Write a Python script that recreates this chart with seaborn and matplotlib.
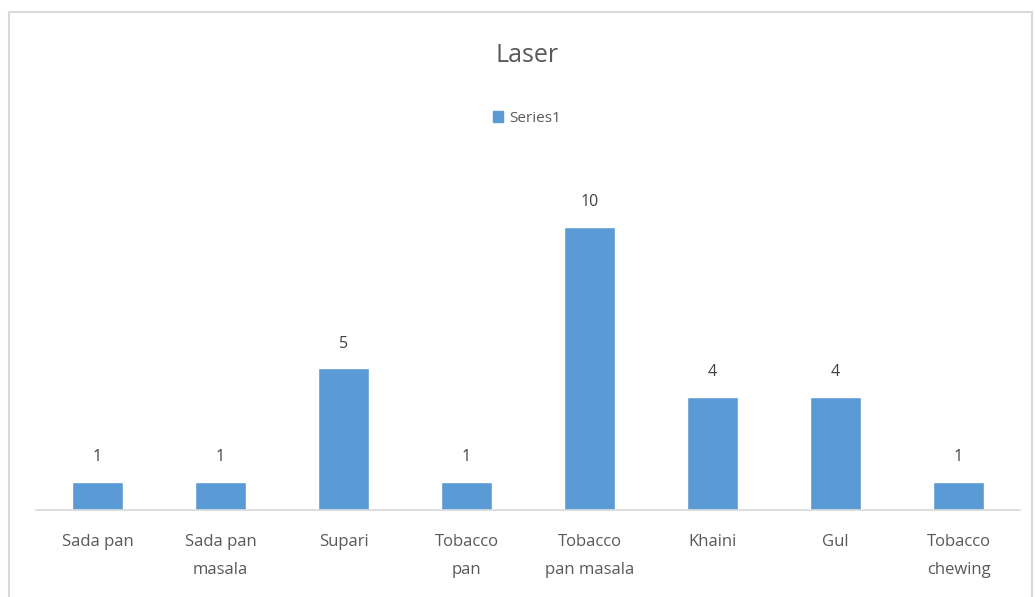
import matplotlib.pyplot as plt
import matplotlib.patches as mpatches
import seaborn as sns
import pandas as pd

categories = ["Sada pan", "Sada pan\nmasala", "Supari", "Tobacco\npan",
              "Tobacco\npan masala", "Khaini", "Gul", "Tobacco\nchewing"]
values = [1, 1, 5, 1, 10, 4, 4, 1]

df = pd.DataFrame({"category": categories, "value": values})

sns.set_style("white")
plt.rcParams["font.family"] = ["Open Sans", "DejaVu Sans"]

W, H = 1035, 597
fig = plt.figure(figsize=(W / 100, H / 100), dpi=100)
# axes: x 36..1020, baseline at y=510, top at y=170
ax = fig.add_axes([36 / W, 1 - 510 / H, 984 / W, 340 / H])

bar_color = "#5B9BD5"
text_color = "#595959"

sns.barplot(data=df, x="category", y="value", color=bar_color, width=0.41,
            saturation=1, ax=ax, legend=False)

ax.set_ylim(0, 12)
ax.set_xlim(-0.5, len(categories) - 0.5)
for c in ax.containers:
    ax.bar_label(c, padding=12, fontsize=11.5, color="#404040")

ax.set_xlabel("")
ax.set_ylabel("")
ax.set_yticks([])
for s in ["top", "right", "left"]:
    ax.spines[s].set_visible(False)
ax.spines["bottom"].set_color("#D9D9D9")
ax.spines["bottom"].set_linewidth(1.2)
ax.tick_params(axis="x", length=0, pad=17, labelsize=12, labelcolor=text_color)
for lbl in ax.get_xticklabels():
    lbl.set_linespacing(2.05)

fig.text(527 / W, 1 - 55 / H, "Laser", ha="center", va="center",
         fontsize=18, color=text_color)

handle = mpatches.Patch(color=bar_color, label="Series1")
fig.legend(handles=[handle], loc="center", bbox_to_anchor=(527 / W, 1 - 118 / H),
           frameon=False, fontsize=11, labelcolor=text_color,
           handlelength=0.7, handleheight=0.7, handletextpad=0.4)

# light chart-area border
fig.patches.append(mpatches.Rectangle((9 / W, -0.05), (W - 12) / W, 1 - 12 / H + 0.05,
                                      transform=fig.transFigure, fill=False,
                                      edgecolor="#D9D9D9", linewidth=1.5))

fig.savefig("out.png", dpi=100)
